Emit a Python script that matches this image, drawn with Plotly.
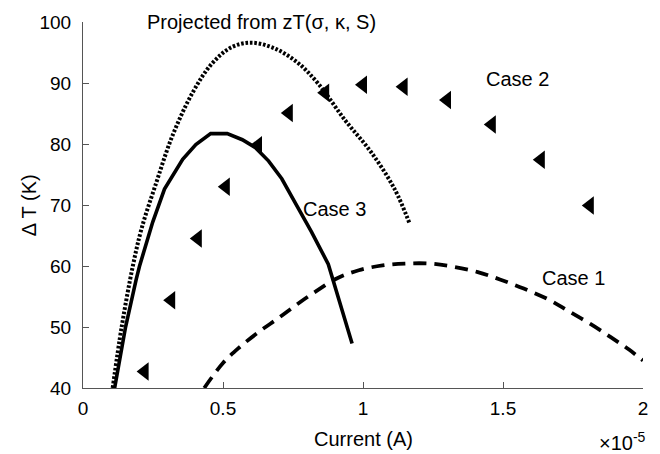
import plotly.graph_objects as go

# Current values are in units of 1e-5 A, converted to amperes below
SCALE = 1e-5

# Case 2 measurements (triangles)
case2_current = [0.22, 0.315, 0.41, 0.51, 0.625, 0.735, 0.865, 1.0, 1.145, 1.30, 1.46, 1.635, 1.81]
case2_dT = [42.7, 54.4, 64.5, 73.0, 79.8, 85.1, 88.4, 89.7, 89.4, 87.2, 83.2, 77.4, 69.9]

# Case 3 (solid)
case3_current = [0.113, 0.152, 0.19, 0.202, 0.249, 0.291, 0.356, 0.403, 0.456, 0.515,
                 0.569, 0.616, 0.663, 0.71, 0.75, 0.816, 0.876, 0.961]
case3_dT = [40.0, 50.0, 57.8, 60.0, 67.2, 72.6, 77.5, 79.9, 81.7, 81.7,
            80.7, 79.4, 77.2, 74.3, 71.0, 65.6, 60.3, 47.3]

# Projected from zT (dotted)
proj_current = [0.106, 0.138, 0.178, 0.209, 0.262, 0.319, 0.39, 0.461, 0.532, 0.603,
                0.688, 0.77, 0.84, 0.936, 1.03, 1.113, 1.167]
proj_dT = [40.0, 50.0, 60.0, 66.1, 73.7, 81.3, 88.3, 93.2, 95.9, 96.6,
           95.6, 93.2, 89.9, 83.9, 78.6, 72.6, 66.9]

# Case 1 (dashed)
case1_current = [0.433, 0.5, 0.557, 0.628, 0.699, 0.77, 0.837, 0.908, 0.985, 1.07,
                 1.15, 1.24, 1.32, 1.41, 1.489, 1.574, 1.663, 1.734, 1.812, 1.886,
                 1.95, 2.0]
case1_dT = [40.0, 44.1, 46.6, 49.2, 51.5, 53.9, 56.0, 58.0, 59.3, 60.1,
            60.4, 60.4, 59.9, 59.0, 57.8, 56.3, 54.5, 52.6, 50.5, 48.3,
            46.3, 44.5]

x_tick_values = [0, 0.5, 1, 1.5, 2]
x_tick_labels = ["0", "0.5", "1", "1.5", "2"]
y_tick_values = [40, 50, 60, 70, 80, 90, 100]


def amps(vals):
    return [v * SCALE for v in vals]


FONT = "Liberation Sans, Arial, sans-serif"
AXIS_COLOR = "#555555"

fig = go.Figure()

fig.add_trace(go.Scatter(
    x=amps(proj_current), y=proj_dT, mode="lines", line_shape="spline",
    line=dict(color="black", width=4, dash="2.6px,1.8px"), showlegend=False,
))
fig.add_trace(go.Scatter(
    x=amps(case3_current), y=case3_dT, mode="lines",
    line=dict(color="black", width=3.6), showlegend=False,
))
fig.add_trace(go.Scatter(
    x=amps(case1_current), y=case1_dT, mode="lines", line_shape="spline",
    line=dict(color="black", width=3.8, dash="13px,8px"), showlegend=False,
))
fig.add_trace(go.Scatter(
    x=amps(case2_current), y=case2_dT, mode="markers",
    marker=dict(symbol="triangle-left", size=16, color="black"),
    showlegend=False,
))

text_font = dict(family=FONT, size=20, color="black")
annotations = [
    dict(x=0.638 * SCALE, y=1.0, xref="x", yref="paper", text="Projected from zT(σ, κ, S)"),
    dict(x=1.55 * SCALE, y=90.7, xref="x", yref="y", text="Case 2"),
    dict(x=0.897 * SCALE, y=69.3, xref="x", yref="y", text="Case 3"),
    dict(x=1.752 * SCALE, y=58.0, xref="x", yref="y", text="Case 1"),
    dict(x=0.5, y=-0.138, xref="paper", yref="paper", text="Current (A)"),
    dict(x=-0.096, y=0.5, xref="paper", yref="paper", text="Δ T (K)", textangle=-90),
    dict(x=1.0, y=-0.145, xref="paper", yref="paper", text="×10<sup>-5</sup>",
         xanchor="right", xshift=5),
]
for a in annotations:
    a.setdefault("xanchor", "center")
    a.setdefault("yanchor", "middle")
    fig.add_annotation(showarrow=False, font=text_font, **a)

fig.update_layout(
    width=660, height=454,
    margin=dict(l=83, r=13, t=18, b=66),
    paper_bgcolor="white", plot_bgcolor="white",
    font=dict(family=FONT, size=19, color="black"),
)
fig.update_xaxes(
    range=[0, 2 * SCALE], tickvals=amps(x_tick_values), ticktext=x_tick_labels,
    ticks="inside", ticklen=6, tickcolor=AXIS_COLOR, showline=True,
    linecolor=AXIS_COLOR, linewidth=1, showgrid=False, zeroline=False,
    tickfont=dict(family=FONT, size=19, color="black"), ticklabelstandoff=3,
)
fig.update_yaxes(
    range=[40, 100], tickvals=y_tick_values,
    ticks="inside", ticklen=6, tickcolor=AXIS_COLOR, showline=True,
    linecolor=AXIS_COLOR, linewidth=1, showgrid=False, zeroline=False,
    tickfont=dict(family=FONT, size=19, color="black"), ticklabelstandoff=7,
)

fig.write_html("out.html")
